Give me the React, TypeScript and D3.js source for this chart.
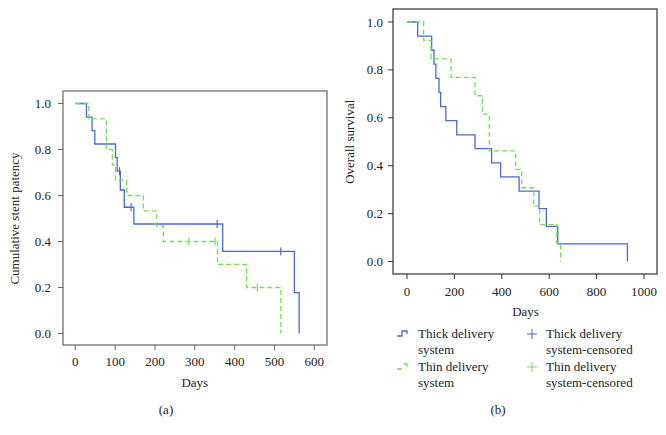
import React from "react";
import * as d3 from "d3";

// Panel (a): cumulative stent patency
const thickATimes = [0, 28, 42, 49, 101, 105, 113, 123, 147, 370, 550, 562];
const thickASurv = [1.0, 0.941, 0.882, 0.824, 0.765, 0.706, 0.624, 0.549, 0.476, 0.357, 0.178, 0.0];
const thickACensT = [111, 140, 356, 516];
const thickACensS = [0.706, 0.549, 0.476, 0.357];

const thinATimes = [0, 34, 78, 93, 101, 129, 171, 204, 221, 357, 430, 516];
const thinASurv = [1.0, 0.933, 0.8, 0.733, 0.667, 0.6, 0.533, 0.467, 0.4, 0.3, 0.2, 0.0];
const thinACensT = [285, 351, 457];
const thinACensS = [0.4, 0.4, 0.2];

// Panel (b): overall survival
const thickBTimes = [0, 45, 104, 114, 122, 135, 142, 164, 210, 287, 357, 395, 473, 557, 588, 636, 930];
const thickBSurv = [1.0, 0.941, 0.882, 0.824, 0.765, 0.706, 0.647, 0.588, 0.529, 0.471, 0.412, 0.353, 0.294, 0.221, 0.147, 0.074, 0.0];

const thinBTimes = [0, 70, 101, 186, 287, 318, 347, 459, 484, 535, 560, 632, 648];
const thinBSurv = [1.0, 0.923, 0.846, 0.769, 0.692, 0.615, 0.462, 0.385, 0.308, 0.231, 0.154, 0.077, 0.0];

const yTicks = [0, 0.2, 0.4, 0.6, 0.8, 1.0];
const xTicksA = [0, 100, 200, 300, 400, 500, 600];
const xTicksB = [0, 200, 400, 600, 800, 1000];

const legendItems = ["Thick delivery", "system", "Thin delivery", "system"];
const censLegend = ["Thick delivery", "system-censored", "Thin delivery", "system-censored"];

const BLUE = "#4d67d6";
const GREEN = "#74e052";
const FONT = "'Liberation Serif', 'DejaVu Serif', serif";
const FS = 13;

type PanelProps = {
  frame: { x0: number; x1: number; y0: number; y1: number };
  xDomain: [number, number];
  xRange: [number, number];
  yRange: [number, number];
  xTicks: number[];
  ylabel: string;
  ylabelX: number;
  labelRight: number;
  xTickY: number;
  daysY: number;
  frameColor: string;
  series: { t: number[]; s: number[]; color: string; dash?: string }[];
  cens: { t: number[]; s: number[]; color: string }[];
};

function Panel(p: PanelProps) {
  const x = d3.scaleLinear().domain(p.xDomain).range(p.xRange);
  const y = d3.scaleLinear().domain([0, 1]).range(p.yRange);
  const line = d3
    .line<[number, number]>()
    .x((d) => x(d[0]))
    .y((d) => y(d[1]))
    .curve(d3.curveStepAfter);
  const f = p.frame;
  return (
    <g>
      <rect x={f.x0} y={f.y0} width={f.x1 - f.x0} height={f.y1 - f.y0} fill="none" stroke={p.frameColor} strokeWidth={1.2} />
      {yTicks.map((v) => (
        <g key={"y" + v}>
          <line x1={f.x0 - 5} x2={f.x0} y1={y(v)} y2={y(v)} stroke={p.frameColor} />
          <text x={p.labelRight} y={y(v) + 4.5} textAnchor="end" fontSize={FS} fontFamily={FONT} fill="#222">
            {v.toFixed(1)}
          </text>
        </g>
      ))}
      {p.xTicks.map((v) => (
        <g key={"x" + v}>
          <line x1={x(v)} x2={x(v)} y1={f.y1} y2={f.y1 + 5} stroke={p.frameColor} />
          <text x={x(v)} y={p.xTickY} textAnchor="middle" fontSize={FS} fontFamily={FONT} fill="#222">
            {v}
          </text>
        </g>
      ))}
      <text x={(x(p.xTicks[0]) + x(p.xTicks[p.xTicks.length - 1])) / 2} y={p.daysY} textAnchor="middle" fontSize={FS} fontFamily={FONT} fill="#222">
        Days
      </text>
      <text
        transform={`translate(${p.ylabelX},${(y(0) + y(1)) / 2}) rotate(-90)`}
        textAnchor="middle"
        fontSize={FS}
        fontFamily={FONT}
        fill="#222"
      >
        {p.ylabel}
      </text>
      {p.series.map((s, i) => (
        <path
          key={"s" + i}
          d={line(s.t.map((t, j) => [t, s.s[j]] as [number, number])) || ""}
          fill="none"
          stroke={s.color}
          strokeWidth={1.3}
          strokeDasharray={s.dash}
        />
      ))}
      {p.cens.map((c, i) =>
        c.t.map((t, j) => (
          <line key={"c" + i + "-" + j} x1={x(t)} x2={x(t)} y1={y(c.s[j]) - 4} y2={y(c.s[j]) + 4} stroke={c.color} strokeWidth={1.2} />
        ))
      )}
    </g>
  );
}

export default function App() {
  return (
    <svg width={666} height={435} style={{ position: "absolute", left: 0, top: 0, background: "#fff" }}>
      <rect width={666} height={435} fill="#fff" />
      <Panel
        frame={{ x0: 63, x1: 327, y0: 91, y1: 345 }}
        xDomain={[0, 600]}
        xRange={[75.3, 314.3]}
        yRange={[333.5, 103.5]}
        xTicks={xTicksA}
        ylabel="Cumulative stent patency"
        ylabelX={19}
        labelRight={51}
        xTickY={366}
        daysY={387}
        frameColor="#666"
        series={[
          { t: thickATimes, s: thickASurv, color: BLUE },
          { t: thinATimes, s: thinASurv, color: GREEN, dash: "5,3" },
        ]}
        cens={[
          { t: thickACensT, s: thickACensS, color: BLUE },
          { t: thinACensT, s: thinACensS, color: GREEN },
        ]}
      />
      <Panel
        frame={{ x0: 393, x1: 657, y0: 9, y1: 274 }}
        xDomain={[0, 1000]}
        xRange={[407, 644]}
        yRange={[261.5, 22]}
        xTicks={xTicksB}
        ylabel="Overall survival"
        ylabelX={354}
        labelRight={383}
        xTickY={296}
        daysY={316}
        frameColor="#333"
        series={[
          { t: thickBTimes, s: thickBSurv, color: BLUE },
          { t: thinBTimes, s: thinBSurv, color: GREEN, dash: "5,3" },
        ]}
        cens={[]}
      />
      {/* legend */}
      <g fontFamily={FONT} fontSize={FS} fill="#222">
        <path d="M397,336 H402 V331 H407 V334" fill="none" stroke={BLUE} strokeWidth={1.3} />
        <path d="M397,369 H402 M404,364 H407 V367" fill="none" stroke={GREEN} strokeWidth={1.3} />
        <text x={418} y={338}>{legendItems[0]}</text>
        <text x={418} y={354}>{legendItems[1]}</text>
        <text x={418} y={371}>{legendItems[2]}</text>
        <text x={418} y={387}>{legendItems[3]}</text>
        <path d="M527,334 H537 M532,329 V339" stroke={BLUE} strokeWidth={1} />
        <path d="M527,367 H537 M532,362 V372" stroke={GREEN} strokeWidth={1} />
        <text x={546} y={338}>{censLegend[0]}</text>
        <text x={546} y={354}>{censLegend[1]}</text>
        <text x={546} y={371}>{censLegend[2]}</text>
        <text x={546} y={387}>{censLegend[3]}</text>
      </g>
      <text x={166} y={414} textAnchor="middle" fontSize={FS} fontFamily={FONT} fill="#222">(a)</text>
      <text x={498} y={414} textAnchor="middle" fontSize={FS} fontFamily={FONT} fill="#222">(b)</text>
    </svg>
  );
}
